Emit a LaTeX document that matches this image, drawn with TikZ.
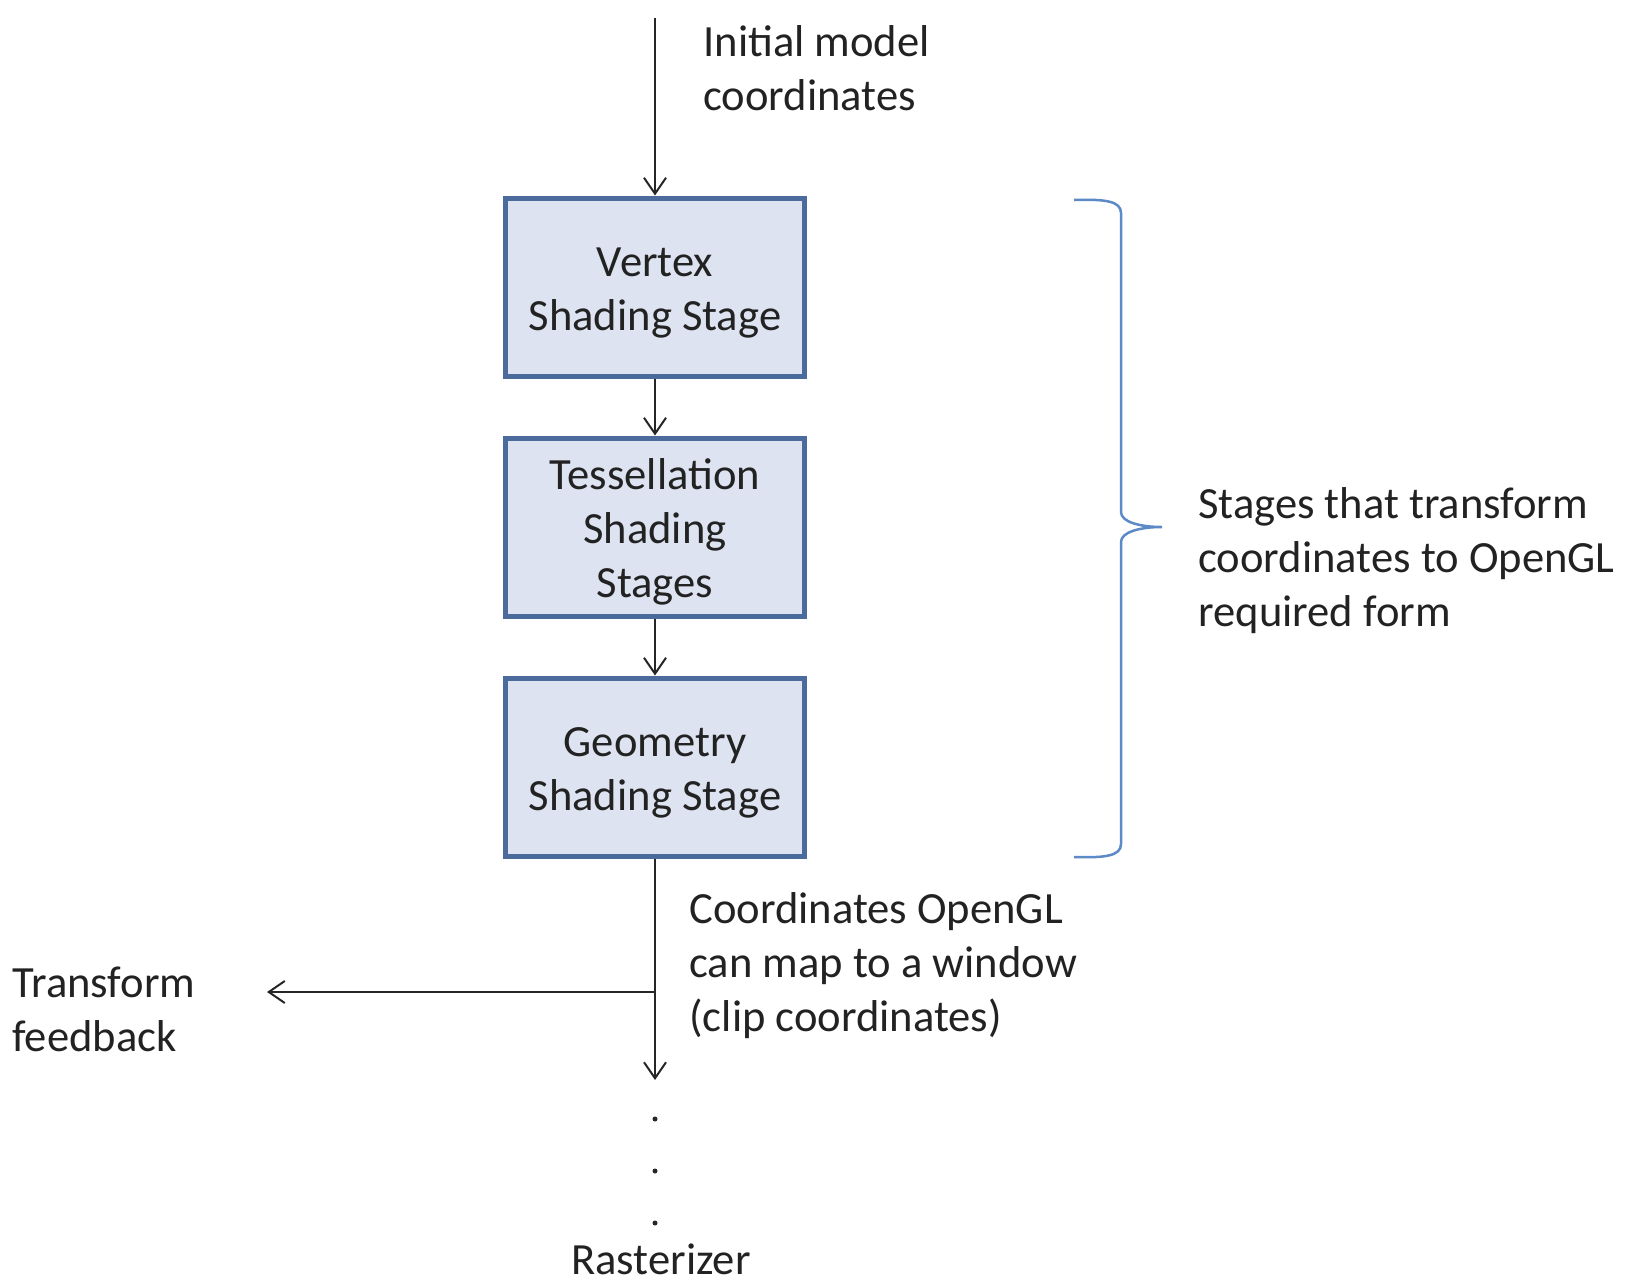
\documentclass[tikz,border=0pt]{standalone}
\usepackage{fontspec}
\setmainfont{Carlito}
\usetikzlibrary{arrows.meta}
\definecolor{boxfill}{HTML}{DDE3F0}
\definecolor{boxline}{HTML}{4A6B9B}
\definecolor{bracecol}{HTML}{5B8AC6}
\definecolor{txt}{HTML}{222222}
\newcommand{\topstrut}{\rule{0pt}{20.5pt}}
\begin{document}
\begin{tikzpicture}[x=0.5pt,y=-0.5pt,
  font=\fontsize{22.3}{27}\selectfont,
  stagebox/.style={draw=boxline, line width=2.5pt, fill=boxfill,
    minimum width=149.5pt, minimum height=89pt, inner sep=0pt,
    align=center, text=txt},
  flow/.style={draw=black!85, line width=1pt,
    -{Straight Barb[length=8pt,width=11pt,line width=1pt]}},
  lbl/.style={text=txt, align=left, inner sep=0pt, anchor=west},
  dotmark/.style={fill=black!85}]
\useasboundingbox (0,0) rectangle (1627,1286);

% stages
\node[stagebox] (vs) at (655,287) {\topstrut Vertex\\Shading Stage};
\node[stagebox] (ts) at (655,527) {\topstrut Tessellation\\Shading\\Stages};
\node[stagebox] (gs) at (655,767) {\topstrut Geometry\\Shading Stage};

% flow
\coordinate (top) at (655,18);
\coordinate (br) at (655,992);
\coordinate (bot) at (655,1080);
\coordinate (tf) at (267,992);
\draw[flow] (top) -- (vs);
\draw[flow] (vs) -- (ts);
\draw[flow] (ts) -- (gs);
\draw[flow] (gs) -- (bot);
\draw[flow] (br) -- (tf);

% dots
\fill[dotmark] (655,1119) circle (2.5);
\fill[dotmark] (655,1171) circle (2.5);
\fill[dotmark] (655,1223) circle (2.5);

% labels
\node[lbl] (init) at (703,68) {Initial model\\coordinates};
\node[lbl] (clip) at (689,966) {Coordinates OpenGL\\can map to a window\\(clip coordinates)};
\node[lbl] (tfb) at (12,1009) {Transform\\feedback};
\node[lbl] (stg) at (1198,561) {Stages that transform\\coordinates to OpenGL\\required form};
\node[text=txt, inner sep=0pt] (ras) at (661,1259) {Rasterizer};

% brace
\draw[bracecol, line width=1.25pt]
  (1074,200) .. controls (1105,199) and (1121,201) .. (1121,213)
  -- (1121,512) .. controls (1121,522) and (1140,527) .. (1162,527)
  .. controls (1140,527) and (1121,532) .. (1121,542)
  -- (1121,844) .. controls (1121,856) and (1105,858) .. (1074,857);
\end{tikzpicture}
\end{document}
